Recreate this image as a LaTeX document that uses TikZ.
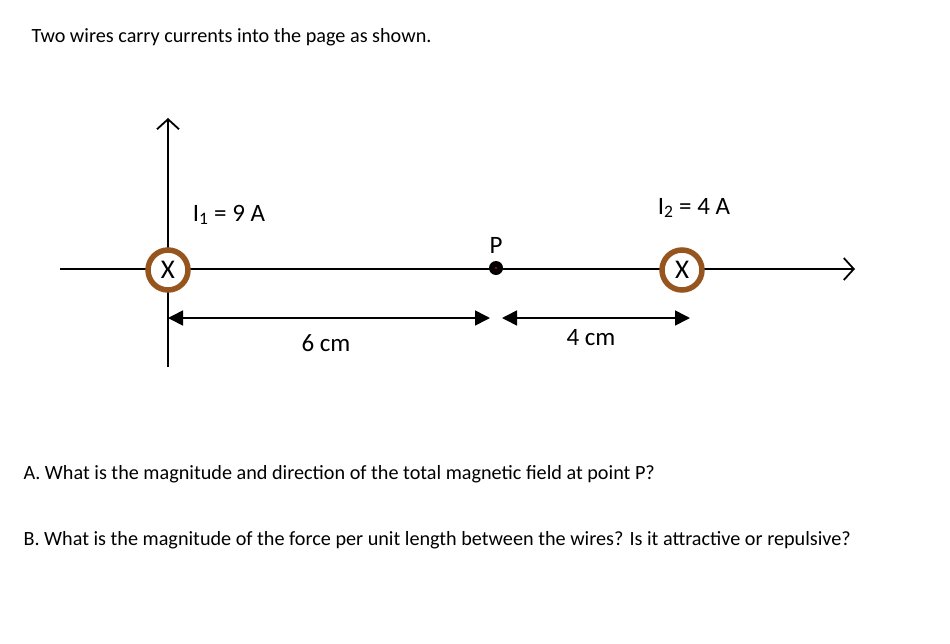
\documentclass[tikz,border=0pt]{standalone}
\usepackage{fontspec}
\setmainfont{Carlito}
\usetikzlibrary{arrows.meta,positioning}
\definecolor{wirebrown}{RGB}{150,85,30}
\tikzset{
  axis/.style={line width=1.8pt,-{Straight Barb[length=10pt,width=22pt]}},
  dimline/.style={line width=1.6pt,{Triangle[length=15pt,width=15pt]}-{Triangle[length=15pt,width=15pt]}},
  wire/.style={circle,draw=wirebrown,line width=5.5pt,fill=white,minimum size=40pt,inner sep=0pt,font=\fontsize{27}{28}\selectfont},
  lbl/.style={font=\fontsize{25}{28}\selectfont},
  txt/.style={font=\fontsize{20.2}{24}\selectfont,anchor=west},
}
\begin{document}
\begin{tikzpicture}[x=1pt,y=-1pt]
  \useasboundingbox[fill=white] (0,0) rectangle (950,643);
  \node[txt] (title) at (28,37) {Two wires carry currents into the page as shown.};
  % axes
  \coordinate (yb) at (168,367);
  \coordinate (yt) at (168,118);
  \coordinate (xl) at (60,269);
  \coordinate (xr) at (855,269);
  \draw[axis] (yb) -- (yt);
  \draw[axis] (xl) -- (xr);
  % wires and point P
  \node[wire] (w1) at (168,270) {X};
  \node[wire] (w2) at (682,270) {X};
  \node[circle,fill=black,minimum size=14pt,inner sep=0pt] (P) at (496,268) {};
  \fill[red!70!black] (P) circle (1.3pt);
  \node[lbl,above=4pt of P] (Plbl) {P};
  \node[lbl] (I1) at (229,215) {I\textsubscript{1} = 9 A};
  \node[lbl] (I2) at (694,208) {I\textsubscript{2} = 4 A};
  % distances
  \draw[dimline] (168,318) -- (490,318);
  \draw[dimline] (502,318) -- (690,318);
  \node[lbl] (six) at (326,343) {6 cm};
  \node[lbl] (four) at (591,338) {4 cm};
  % questions
  \node[txt] (qa) at (20,474) {A. What is the magnitude and direction of the total magnetic field at point P?};
  \node[txt] (qb) at (20,540) {B. What is the magnitude of the force per unit length between the wires? Is it attractive or repulsive?};
\end{tikzpicture}
\end{document}
